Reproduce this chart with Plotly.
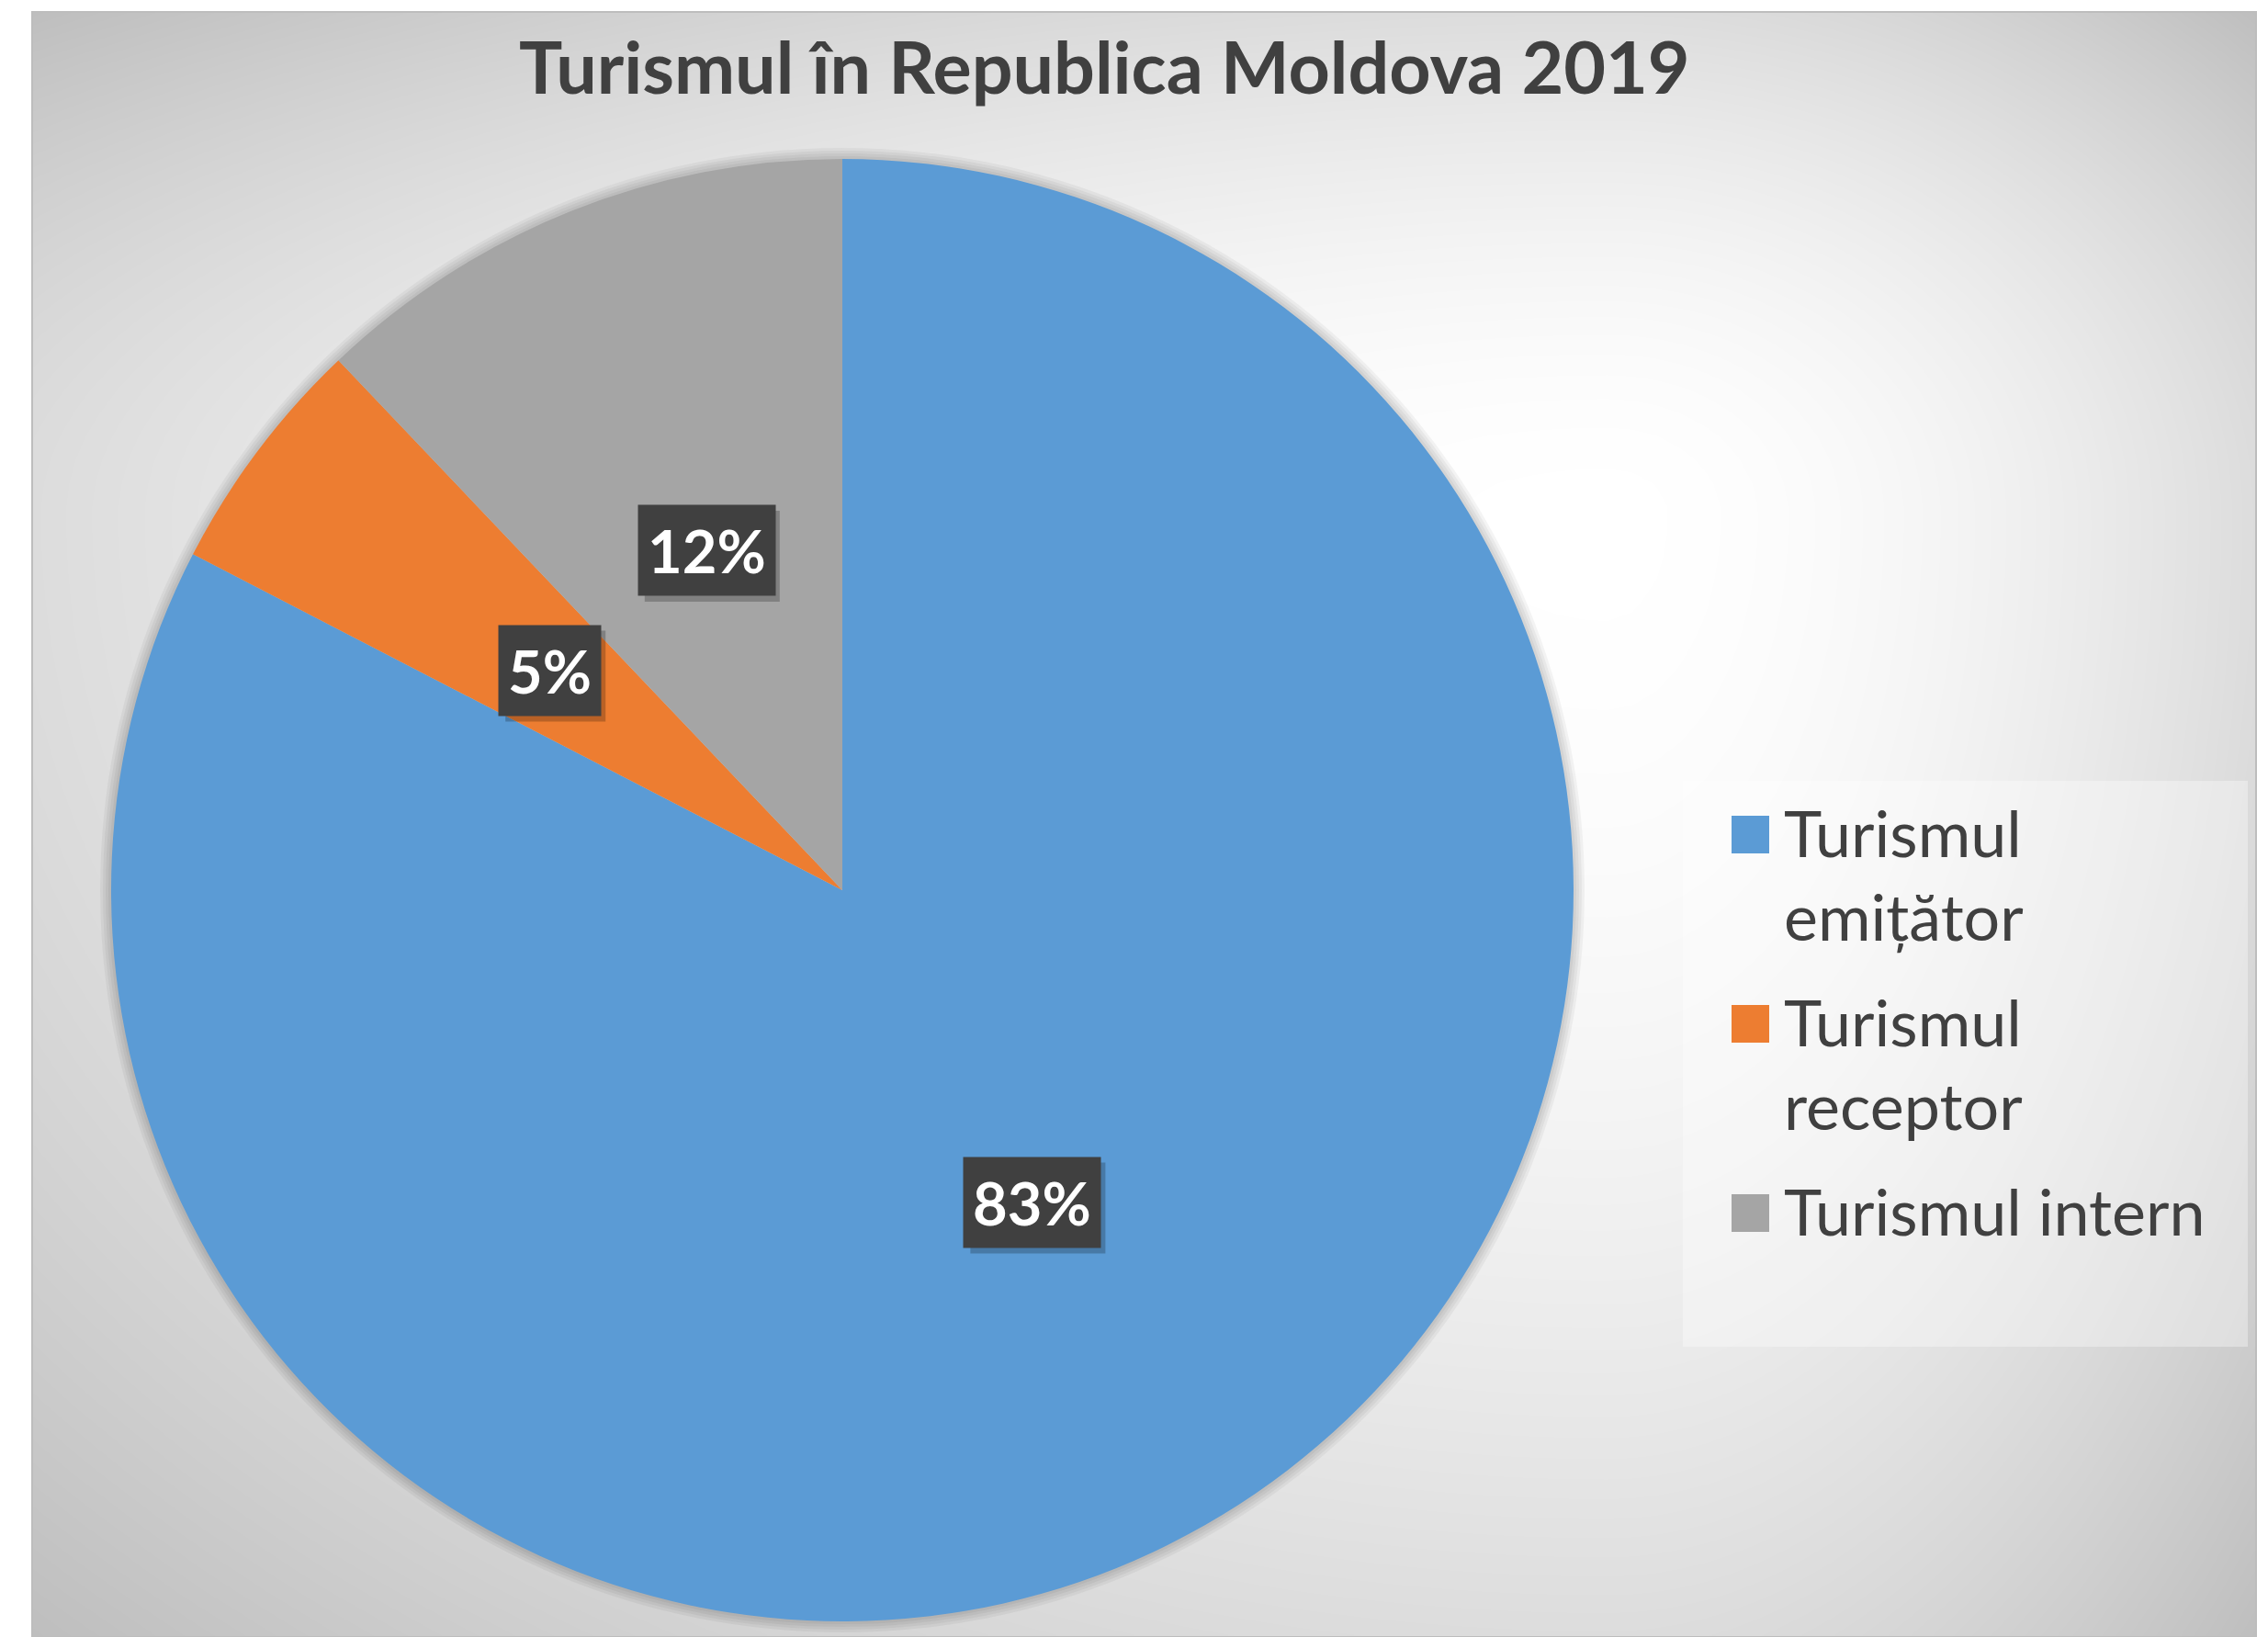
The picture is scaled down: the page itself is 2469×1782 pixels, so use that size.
import numpy as np
import plotly.graph_objects as go

# ---------------- data ----------------
categories = ["Turismul emițător", "Turismul receptor", "Turismul intern"]
legend_lines = [["Turismul", "emițător"], ["Turismul", "receptor"], ["Turismul intern"]]
values = [82.6, 5.3, 12.1]
colors = ["#5B9BD5", "#ED7D31", "#A5A5A5"]
title_text = "Turismul în Republica Moldova 2019"

# ---------------- layout constants (pixels) ----------------
W, H = 2469, 1782
AX0, AX1, AY0, AY1 = 35, 2456, 13, 1782      # chart area
CX, CY, R = 917, 969, 796                    # pie centre / radius
FONT = "Lato"
TXT = "#404040"


def px(x):
    return x / W


def py(y):
    return 1 - y / H


fig = go.Figure()

# background radial gradient (style only)
nx, ny = 90, 70
gx = np.linspace(AX0, AX1, nx)
gy = np.linspace(AY0, AY1, ny)
FX, FY = 1750, 560
X, Y = np.meshgrid(gx, gy)
dx = np.where(X < FX, (FX - X) / (FX - AX0), (X - FX) / (AX1 - FX))
dy = np.where(Y < FY, (FY - Y) / (FY - AY0), (Y - FY) / (AY1 - FY))
d = np.clip(np.sqrt(dx ** 2 + dy ** 2) / np.sqrt(2), 0, 1)
Z = 255 - 65 * d ** 1.8
fig.add_trace(go.Heatmap(
    x=gx, y=gy, z=Z, zmin=190, zmax=255,
    colorscale=[[0, "rgb(190,190,190)"], [1, "rgb(255,255,255)"]],
    showscale=False, zsmooth="best", hoverinfo="skip",
))

# soft shadow behind the pie
for k in range(1, 5):
    e = 3 * k
    fig.add_trace(go.Pie(
        values=[1], labels=["shadow"],
        marker=dict(colors=["rgba(0,0,0,0.045)"], line=dict(width=0)),
        domain=dict(x=[px(CX - R - e), px(CX + R + e)],
                    y=[max(0, py(CY + R + e)), py(CY - R - e)]),
        textinfo="none", hoverinfo="skip", showlegend=False, sort=False,
    ))

# main pie
fig.add_trace(go.Pie(
    labels=categories, values=values,
    marker=dict(colors=colors, line=dict(width=0)),
    sort=False, direction="clockwise", rotation=0,
    textinfo="none", hoverinfo="label+percent", showlegend=False,
    domain=dict(x=[px(CX - R), px(CX + R)], y=[py(CY + R), py(CY - R)]),
))

# data labels (dark boxes at half radius on each slice's mid-angle)
total = sum(values)
cum = 0.0
for v in values:
    mid = (cum + v / 2) / total * 2 * np.pi
    cum += v
    lx = CX + 0.5 * R * np.sin(mid)
    ly = CY - 0.5 * R * np.cos(mid)
    txt = f"{round(v / total * 100)}%"
    # drop shadow of the label box
    bw, bh = 38 * len(txt) + 33, 99
    fig.add_shape(type="rect", xref="paper", yref="paper",
                  x0=px(lx - bw / 2 + 6), x1=px(lx + bw / 2 + 6),
                  y0=py(ly + bh / 2 + 6), y1=py(ly - bh / 2 + 6),
                  fillcolor="rgba(0,0,0,0.22)", line=dict(width=0), layer="above")
    fig.add_annotation(x=px(lx), y=py(ly), xref="paper", yref="paper", text=txt,
                       showarrow=False, borderpad=10, xanchor="center", yanchor="middle",
                       bgcolor="#404040",
                       font=dict(family=FONT, size=65, color="white", weight="bold"))

# legend (custom, to match large square keys)
fig.add_shape(type="rect", xref="paper", yref="paper",
              x0=px(1832), x1=px(2447), y0=py(1466), y1=py(850),
              fillcolor="rgba(255,255,255,0.35)", line=dict(width=0), layer="above")
base = 929
for i, lines in enumerate(legend_lines):
    fig.add_shape(type="rect", xref="paper", yref="paper",
                  x0=px(1885), x1=px(1926), y0=py(base), y1=py(base - 41),
                  fillcolor=colors[i], line=dict(width=0), layer="above")
    for j, line in enumerate(lines):
        bl = base + j * 91
        fig.add_annotation(x=px(1940), y=py(bl - 23), xref="paper", yref="paper",
                           text=line, xanchor="left", yanchor="middle", showarrow=False,
                           font=dict(family=FONT, size=70, color=TXT))
    base += len(lines) * 91 + 24

# chart-area border
fig.add_shape(type="rect", xref="paper", yref="paper",
              x0=px(AX0), x1=px(AX1), y0=0, y1=py(AY0),
              line=dict(color="#bdbdbd", width=2), layer="above")

fig.update_layout(
    width=W, height=H,
    margin=dict(l=0, r=0, t=0, b=0),
    paper_bgcolor="white", plot_bgcolor="white",
    title=dict(text=title_text, x=0.487, y=py(74), xanchor="center", yanchor="middle",
               xref="paper", yref="paper",
               font=dict(family=FONT, size=79, color=TXT, weight="bold")),
    xaxis=dict(visible=False, domain=[px(AX0), px(AX1)], range=[AX0, AX1], fixedrange=True),
    yaxis=dict(visible=False, domain=[0, py(AY0)], range=[AY1, AY0], fixedrange=True),
    showlegend=False,
)

fig.write_html("out.html", config={"displayModeBar": False},
               post_script="document.body.style.margin='0';document.body.style.overflow='hidden';")
